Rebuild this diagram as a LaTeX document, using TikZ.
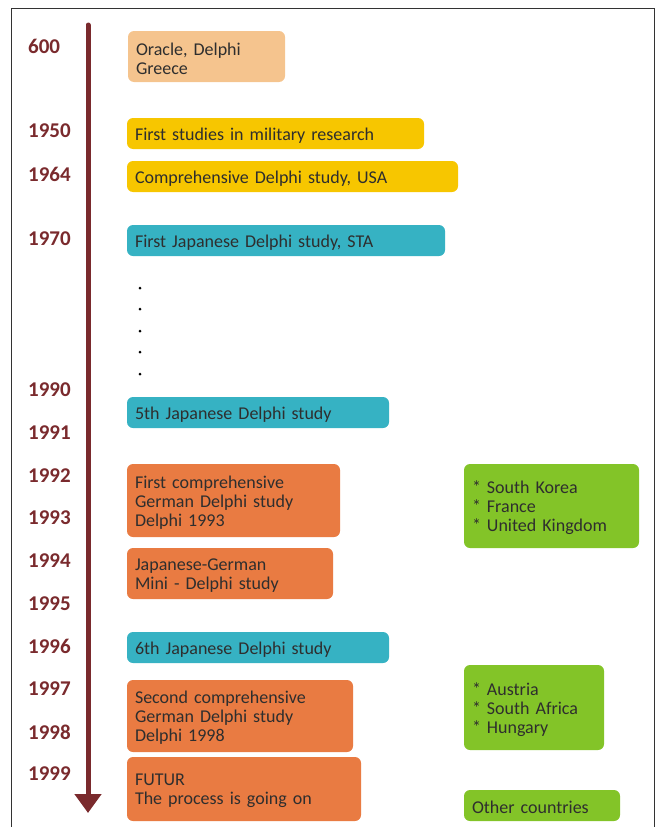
\documentclass[tikz,border=0pt]{standalone}
\usepackage{fontspec}
\setmainfont{Carlito}
\usetikzlibrary{arrows.meta}
\definecolor{maroon}{HTML}{7A2A2D}
\definecolor{peach}{HTML}{F5C48E}
\definecolor{gold}{HTML}{F7C600}
\definecolor{teal}{HTML}{36B2C3}
\definecolor{orng}{HTML}{E97B42}
\definecolor{lime}{HTML}{83C428}
\definecolor{txt}{HTML}{2E2E2E}
\definecolor{frame}{HTML}{333333}
\tikzset{
  box/.style={rounded corners=6pt, inner sep=0pt},
  boxtext/.style={inner sep=0pt, align=left, text=txt, yshift=-2pt,
    font=\fontsize{18}{19}\selectfont},
  year/.style={anchor=west, inner sep=0pt, text=maroon, font=\bfseries\fontsize{21}{22}\selectfont},
}
\newcommand\bx[7]{%
  \node[box, fill=#6, minimum width={(#4-#2)*1pt}, minimum height={(#5-#3)*1pt},
    label={[boxtext, text width={(#4-#2-16)*1pt}]center:{#7}}] (#1) at ({(#2+#4)/2},{(#3+#5)/2}) {};}
\begin{document}
\begin{tikzpicture}[x=1pt,y=-1pt]
\useasboundingbox (0,0) rectangle (660,827);
\draw[frame, line width=1pt] (11,830) -- (11,8) -- (654,8) -- (654,830);
% timeline arrow
\coordinate (ttop) at (88,25);
\coordinate (tbot) at (88,813);
\draw[maroon, line width=5pt, line cap=round, -{Triangle[width=26pt,length=19pt]}] (ttop) -- (tbot);
% years
\foreach \y/\lab in {46/600,131/1950,174/1964,239/1970,390/1990,433/1991,476/1992,518/1993,561/1994,604/1995,646/1996,689/1997,732/1998,774/1999}
  \node[year] (y\lab) at (28,\y) {\lab};
% boxes
\bx{oracle}{128}{31}{285}{82}{peach}{Oracle, Delphi\\Greece}
\bx{mil}{127}{118}{424}{149}{gold}{First studies in military research}
\bx{usa}{127}{161}{458}{192}{gold}{Comprehensive Delphi study, USA}
\bx{sta}{127}{225}{445}{256}{teal}{First Japanese Delphi study, STA}
\bx{jp5}{127}{397}{389}{428}{teal}{5th Japanese Delphi study}
\bx{de93}{127}{464}{340}{537}{orng}{First comprehensive\\German Delphi study\\Delphi 1993}
\bx{jpde}{127}{548}{333}{599}{orng}{Japanese-German\\Mini - Delphi study}
\bx{jp6}{127}{632}{389}{663}{teal}{6th Japanese Delphi study}
\bx{de98}{127}{680}{353}{752}{orng}{Second comprehensive\\German Delphi study\\Delphi 1998}
\bx{futur}{127}{757}{361}{821}{orng}{FUTUR\\The process is going on}
\bx{g1}{464}{464}{639}{548}{lime}{* South Korea\\{}* France\\{}* United Kingdom}
\bx{g2}{464}{665}{604}{750}{lime}{* Austria\\{}* South Africa\\{}* Hungary}
\bx{g3}{464}{790}{620}{821}{lime}{Other countries}
% dots
\foreach \d/\y in {1/288,2/309,3/331,4/352,5/374}
  \node[circle, fill=black, inner sep=0pt, minimum size=3pt] (dot\d) at (140,\y) {};
\end{tikzpicture}
\end{document}
